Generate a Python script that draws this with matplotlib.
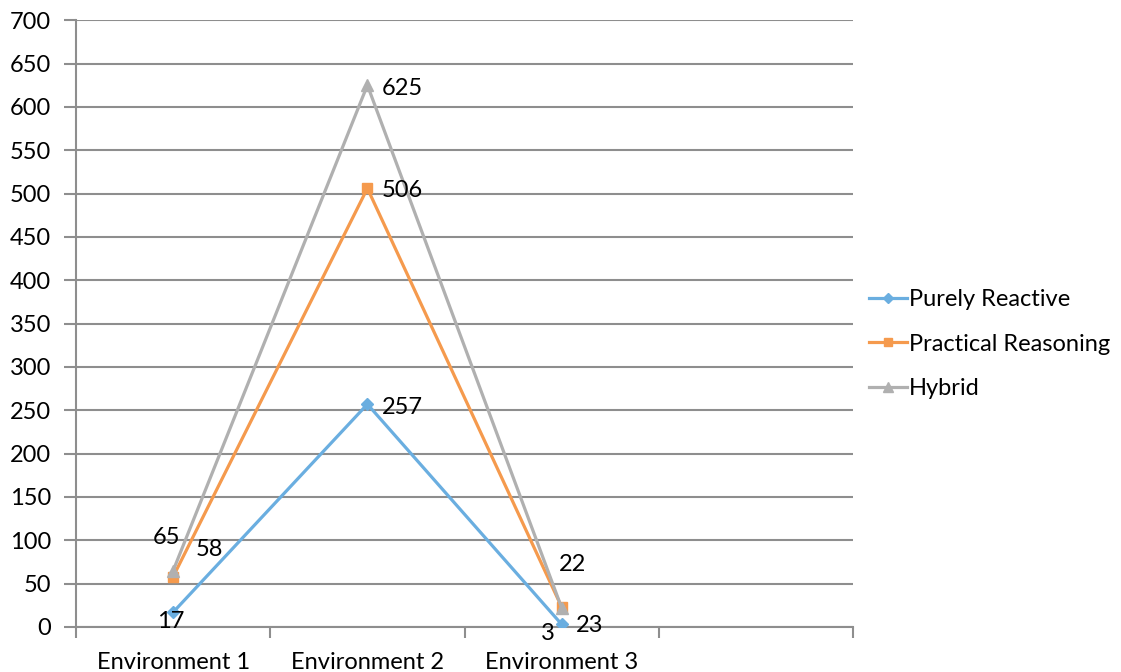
import numpy as np
import matplotlib
matplotlib.use("Agg")
import matplotlib.pyplot as plt
from matplotlib.lines import Line2D

plt.rcParams["font.family"] = ["Lato", "DejaVu Sans"]

# ---------------------------------------------------------------- data
CATEGORIES = ["Environment 1", "Environment 2", "Environment 3", ""]
PURELY_REACTIVE = [17, 257, 3]
PRACTICAL_REASONING = [58, 506, 23]
HYBRID = [65, 625, 22]

# ---------------------------------------------------------------- style
BLUE = "#6aaee0"
ORANGE = "#f59a4d"
GRAY = "#b0b0b0"
GRID = "#8e8e8e"
FS = 17

# label offsets in pixels (dx, dy) per series / point
OFF_REACT = [(-2, -9), (14, -3), (-14, -9)]
OFF_PRACT = [(36, 27), (14, -2), (28, -18)]
OFF_HYB = [(-7, 33), (14, -3), (11, 43)]

fig = plt.figure(figsize=(11.21, 6.72), dpi=100)
ax = fig.add_axes([0.0678, 0.067, 0.6932, 0.903])

x = np.arange(len(PURELY_REACTIVE))
series = [
    ("Purely Reactive", PURELY_REACTIVE, BLUE, "D", 6, OFF_REACT),
    ("Practical Reasoning", PRACTICAL_REASONING, ORANGE, "s", 7, OFF_PRACT),
    ("Hybrid", HYBRID, GRAY, "^", 8, OFF_HYB),
]
handles = []
for name, vals, col, mk, ms, offs in series:
    ax.plot(x, vals, color=col, lw=2.3, marker=mk, ms=ms, zorder=3,
            solid_joinstyle="miter")
    handles.append(Line2D([], [], color=col, lw=2.3, marker=mk, ms=ms - 1,
                          label=name))
    for xi, v, (dx, dy) in zip(x, vals, offs):
        ha = "left" if xi == 1 else "center"
        ax.annotate(str(v), (xi, v), xytext=(dx, dy), textcoords="offset pixels",
                    ha=ha, va="center", fontsize=FS, color="black", zorder=4)

# axes
ax.set_xlim(-0.5, len(CATEGORIES) - 0.5)
ax.set_ylim(0, 700)
ax.set_yticks(np.arange(0, 701, 50))
ax.grid(axis="y", color=GRID, lw=1.5, zorder=1)
ax.set_axisbelow(True)

ax.set_xticks(np.arange(-0.5, len(CATEGORIES), 1.0))
ax.set_xticklabels([])
ax.set_xticks(np.arange(len(CATEGORIES)), minor=True)
ax.set_xticklabels(CATEGORIES, minor=True)
ax.tick_params(axis="x", which="major", length=8, width=1.5, color=GRID)
ax.tick_params(axis="x", which="minor", length=0, pad=18, labelsize=FS)
ax.tick_params(axis="y", length=9, width=1.5, color=GRID, labelsize=FS, pad=9)

for s in ("top", "right"):
    ax.spines[s].set_visible(False)
ax.spines["left"].set_color(GRID)
ax.spines["left"].set_linewidth(1.5)
ax.spines["bottom"].set_color(GRID)
ax.spines["bottom"].set_linewidth(1.5)

fig.legend(handles=handles, loc="center left", bbox_to_anchor=(0.756, 0.488),
           frameon=False, fontsize=FS, handlelength=1.6, handletextpad=0.1,
           labelspacing=1.0)

fig.savefig("out.png", dpi=100)
